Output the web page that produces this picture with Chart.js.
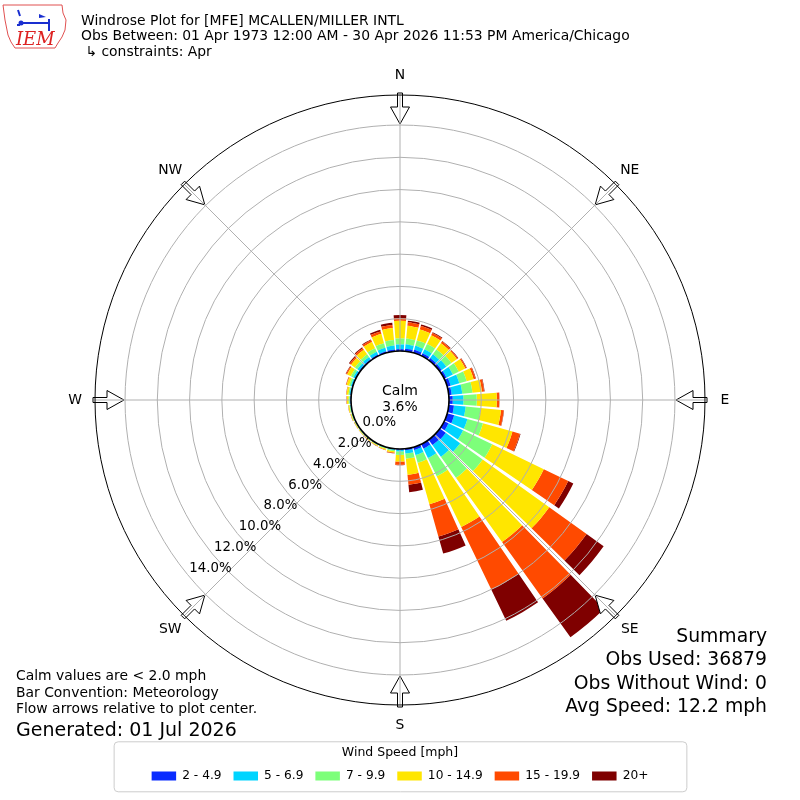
<!DOCTYPE html>
<html>
<head>
<meta charset="utf-8">
<script src="https://cdn.jsdelivr.net/npm/chart.js@4.4.1/dist/chart.umd.min.js"></script>
<style>
  html, body { margin: 0; padding: 0; background: #fff; }
  #wrap { width: 800px; height: 800px; position: relative; }
</style>
</head>
<body>
<div id="wrap"><canvas id="rose"></canvas></div>
<script>
// Direction bins (degrees, meteorological: direction wind blows from)
const directions = [0, 10, 20, 30, 40, 50, 60, 70, 80, 90, 100, 110, 120, 130, 140, 150, 160, 170,
  180, 190, 200, 210, 220, 230, 240, 250, 260, 270, 280, 290, 300, 310, 320, 330, 340, 350];

const speedBins = ['2 - 4.9', '5 - 6.9', '7 - 9.9', '10 - 14.9', '15 - 19.9', '20+'];
const binColors = ['#0a2cff', '#00d4ff', '#7dff7a', '#ffe600', '#ff4a00', '#7f0000'];

// Frequency (%) per direction, one array per speed bin
const speed2to5 = [0.12, 0.16, 0.20, 0.18, 0.16, 0.15, 0.16, 0.22, 0.18, 0.23, 0.32, 0.45, 0.30, 0.45, 0.40, 0.30, 0.18, 0.10,
  0.05, 0.03, 0.02, 0.02, 0.02, 0.02, 0.02, 0.02, 0.03, 0.03, 0.04, 0.05, 0.06, 0.07, 0.08, 0.09, 0.10, 0.11];
const speed5to7 = [0.29, 0.27, 0.25, 0.27, 0.29, 0.35, 0.44, 0.56, 0.66, 0.66, 0.73, 0.85, 1.00, 1.10, 0.90, 0.65, 0.32, 0.20,
  0.10, 0.05, 0.03, 0.02, 0.02, 0.02, 0.02, 0.03, 0.03, 0.05, 0.06, 0.08, 0.12, 0.15, 0.17, 0.19, 0.22, 0.25];
const speed7to10 = [0.37, 0.36, 0.35, 0.37, 0.37, 0.38, 0.40, 0.47, 0.63, 0.83, 0.94, 1.00, 2.00, 1.72, 1.60, 1.25, 0.50, 0.32,
  0.22, 0.07, 0.05, 0.04, 0.03, 0.03, 0.03, 0.04, 0.05, 0.06, 0.07, 0.11, 0.16, 0.18, 0.20, 0.24, 0.30, 0.34];
const speed10to15 = [1.09, 0.79, 0.70, 0.60, 0.48, 0.42, 0.45, 0.45, 0.59, 1.24, 1.26, 1.90, 3.55, 5.08, 4.90, 3.50, 2.68, 1.00,
  0.41, 0.09, 0.06, 0.05, 0.04, 0.04, 0.04, 0.05, 0.07, 0.11, 0.12, 0.16, 0.26, 0.30, 0.35, 0.43, 0.60, 0.74];
const speed15to20 = [0.15, 0.22, 0.22, 0.15, 0.12, 0.08, 0.08, 0.12, 0.14, 0.16, 0.17, 0.48, 1.68, 2.85, 4.30, 4.30, 2.07, 0.62,
  0.20, 0.05, 0.03, 0.02, 0.02, 0.01, 0.01, 0.01, 0.01, 0.02, 0.02, 0.04, 0.07, 0.10, 0.12, 0.12, 0.16, 0.20];
const speed20plus = [0.21, 0.10, 0.10, 0.06, 0.04, 0.03, 0.03, 0.03, 0.03, 0.01, 0.02, 0.04, 0.35, 1.30, 2.96, 2.14, 1.10, 0.46,
  0.02, 0.01, 0.01, 0.01, 0.01, 0.01, 0.01, 0.01, 0.01, 0.01, 0.01, 0.01, 0.03, 0.06, 0.06, 0.06, 0.10, 0.14];

const ringTicks = [0, 2, 4, 6, 8, 10, 12, 14];
const compassNames = ['N', 'NE', 'E', 'SE', 'S', 'SW', 'W', 'NW'];
const calmPercent = 3.6;

const titleLines = [
  'Windrose Plot for [MFE] MCALLEN/MILLER INTL',
  'Obs Between: 01 Apr 1973 12:00 AM - 30 Apr 2026 11:53 PM America/Chicago',
  ' \u21b3 constraints: Apr'
];
const noteLines = ['Calm values are < 2.0 mph', 'Bar Convention: Meteorology', 'Flow arrows relative to plot center.'];
const generatedText = 'Generated: 01 Jul 2026';
const summaryLines = ['Summary', 'Obs Used: 36879', 'Obs Without Wind: 0', 'Avg Speed: 12.2 mph'];

// radial axis: 0% sits on the calm circle, outer edge a bit past 14%
const R_MIN = -3.036;
const R_MAX = 15.86;
const BAR_OPENING = 0.86;
const FONT = "'DejaVu Sans', sans-serif";

Chart.defaults.font.family = FONT;
Chart.defaults.color = '#000';

// Polar area controller that stacks datasets and leaves a gap between direction bins
class WindRoseController extends Chart.PolarAreaController {
  updateElements(arcs, start, count, mode) {
    const chart = this.chart;
    const scale = this._cachedMeta.rScale;
    const step = 2 * Math.PI / this.getDataset().data.length;
    const half = step * BAR_OPENING / 2;
    for (let i = start; i < start + count; i++) {
      let base = 0;
      for (let j = 0; j < this.index; j++) {
        if (chart.isDatasetVisible(j)) base += chart.data.datasets[j].data[i];
      }
      const top = base + this.getParsed(i).r;
      const mid = i * step - Math.PI / 2;
      this.updateElement(arcs[i], i, {
        x: scale.xCenter,
        y: scale.yCenter,
        innerRadius: scale.getDistanceFromCenterForValue(base),
        outerRadius: scale.getDistanceFromCenterForValue(top),
        startAngle: mid - half,
        endAngle: mid + half,
        circumference: 2 * half,
        options: this.resolveDataElementOptions(i, arcs[i].active ? 'active' : mode)
      }, mode);
    }
  }
}
WindRoseController.id = 'windrose';
WindRoseController.defaults = Chart.PolarAreaController.defaults;
WindRoseController.overrides = { aspectRatio: 1, scales: { r: { type: 'radialLinear' } } };
Chart.register(WindRoseController);

function polarPoint(scale, bearing, r) {
  const a = bearing * Math.PI / 180;
  return { x: scale.xCenter + Math.sin(a) * r, y: scale.yCenter - Math.cos(a) * r };
}

function drawArrow(ctx, scale, bearing) {
  const a = bearing * Math.PI / 180;
  const ux = Math.sin(a), uy = -Math.cos(a);
  const px = -uy, py = ux;
  const rTail = scale.drawingArea + 2;
  const rTip = scale.drawingArea - 29;
  const rHead = rTip + 17;
  const pts = [[rTail, 2.5], [rHead, 2.5], [rHead, 9.5], [rTip, 0], [rHead, -9.5], [rHead, -2.5], [rTail, -2.5]];
  ctx.beginPath();
  pts.forEach(([r, w], k) => {
    const x = scale.xCenter + ux * r + px * w;
    const y = scale.yCenter + uy * r + py * w;
    if (k) ctx.lineTo(x, y); else ctx.moveTo(x, y);
  });
  ctx.closePath();
  ctx.fillStyle = '#fff';
  ctx.fill();
  ctx.strokeStyle = '#000';
  ctx.lineWidth = 1;
  ctx.stroke();
}

function drawLogo(ctx) {
  ctx.save();
  // state outline
  ctx.strokeStyle = '#e05050';
  ctx.lineWidth = 1;
  ctx.beginPath();
  const outline = [[3, 5], [62, 5], [63, 13], [66, 20], [65, 30], [62, 37], [58, 43], [55, 48], [15, 48], [11, 42], [8, 35], [5, 20]];
  outline.forEach(([x, y], k) => k ? ctx.lineTo(x, y) : ctx.moveTo(x, y));
  ctx.closePath();
  ctx.stroke();
  // blue wind symbol
  ctx.strokeStyle = '#1a2fd0';
  ctx.fillStyle = '#1a2fd0';
  ctx.lineWidth = 2;
  ctx.beginPath();
  ctx.moveTo(21, 23); ctx.lineTo(50, 23);
  ctx.moveTo(49, 19); ctx.lineTo(49, 31);
  ctx.moveTo(18, 10); ctx.lineTo(20, 16);
  ctx.stroke();
  ctx.beginPath();
  ctx.arc(21, 23, 2.5, 0, Math.PI * 2);
  ctx.fill();
  ctx.beginPath();
  ctx.moveTo(39, 14); ctx.lineTo(46, 17); ctx.lineTo(39, 18);
  ctx.closePath();
  ctx.fill();
  ctx.fillRect(17, 24, 3, 2);
  ctx.fillStyle = '#d22';
  ctx.font = "italic 18px 'DejaVu Serif', serif";
  ctx.textAlign = 'left';
  ctx.textBaseline = 'alphabetic';
  ctx.fillText('IEM', 16, 45);
  ctx.restore();
}

const roseDecor = {
  id: 'roseDecor',
  afterDatasetsDraw(chart) {
    const ctx = chart.ctx;
    const scale = chart.scales.r;
    ctx.save();
    // direction arrows, then spokes over them
    compassNames.forEach((n, k) => drawArrow(ctx, scale, k * 45));
    ctx.strokeStyle = '#b0b0b0';
    ctx.lineWidth = 1;
    const r0 = scale.getDistanceFromCenterForValue(0);
    compassNames.forEach((n, k) => {
      const p0 = polarPoint(scale, k * 45, r0);
      const p1 = polarPoint(scale, k * 45, scale.drawingArea);
      ctx.beginPath();
      ctx.moveTo(p0.x, p0.y);
      ctx.lineTo(p1.x, p1.y);
      ctx.stroke();
    });
    ctx.restore();
  },
  afterDraw(chart) {
    const ctx = chart.ctx;
    const scale = chart.scales.r;
    ctx.save();
    ctx.fillStyle = '#000';

    // compass labels
    ctx.font = '13.9px ' + FONT;
    ctx.textAlign = 'center';
    ctx.textBaseline = 'middle';
    compassNames.forEach((n, k) => {
      const p = polarPoint(scale, k * 45, scale.drawingArea + 20);
      ctx.fillText(n, p.x, p.y);
    });

    // ring labels along 230 degrees
    ctx.font = '13.3px ' + FONT;
    ctx.textAlign = 'left';
    ringTicks.forEach(v => {
      const p = polarPoint(scale, 230, scale.getDistanceFromCenterForValue(v));
      ctx.fillText(v.toFixed(1) + '%', p.x, p.y - 8.5);
    });

    // calm in the middle
    ctx.textAlign = 'center';
    ctx.font = '14px ' + FONT;
    ctx.fillText('Calm', scale.xCenter, scale.yCenter - 9);
    ctx.font = '13.9px ' + FONT;
    ctx.fillText(calmPercent.toFixed(1) + '%', scale.xCenter, scale.yCenter + 7);

    // header
    ctx.textAlign = 'left';
    ctx.textBaseline = 'alphabetic';
    ctx.font = '13.9px ' + FONT;
    titleLines.forEach((t, k) => ctx.fillText(t, 81, 24.5 + k * 15.7));

    // notes bottom left
    noteLines.forEach((t, k) => ctx.fillText(t, 16, 680 + k * 16.6));
    ctx.font = '19px ' + FONT;
    ctx.fillText(generatedText, 16, 735.5);

    // summary bottom right
    ctx.textAlign = 'right';
    ctx.font = '18.8px ' + FONT;
    summaryLines.forEach((t, k) => ctx.fillText(t, 767, 642 + k * 23.4));

    // frame around legend
    const lg = chart.legend;
    if (lg && lg.legendHitBoxes.length) {
      const boxes = lg.legendHitBoxes;
      const left = boxes[0].left - 38;
      const right = 2 * scale.xCenter - left;
      ctx.strokeStyle = '#cccccc';
      ctx.lineWidth = 1;
      ctx.beginPath();
      ctx.roundRect(left + 0.5, lg.top - 1.5, right - left, 50, 4);
      ctx.stroke();
    }
    ctx.restore();

    drawLogo(ctx);
  }
};

const seriesValues = [speed2to5, speed5to7, speed7to10, speed10to15, speed15to20, speed20plus];

new Chart(document.getElementById('rose'), {
  type: 'windrose',
  data: {
    labels: directions.map(d => d + '\u00b0'),
    datasets: seriesValues.map((vals, k) => ({
      label: speedBins[k],
      data: vals,
      backgroundColor: binColors[k],
      borderWidth: 0
    }))
  },
  options: {
    responsive: true,
    maintainAspectRatio: false,
    animation: false,
    events: [],
    layout: { padding: { top: 58, left: 95, right: 95, bottom: 8 } },
    scales: {
      r: {
        type: 'radialLinear',
        min: R_MIN,
        max: R_MAX,
        startAngle: 0,
        angleLines: { display: false },
        pointLabels: { display: false },
        ticks: { display: false },
        grid: {
          circular: true,
          z: 1,
          color: c => (c.tick && (c.tick.value === 0 || c.tick.value === R_MAX)) ? '#000' : '#b0b0b0',
          lineWidth: c => (c.tick && c.tick.value === 0) ? 1.6 : 1
        },
        afterBuildTicks: s => { s.ticks = ringTicks.concat([R_MAX]).map(v => ({ value: v })); }
      }
    },
    plugins: {
      legend: {
        position: 'bottom',
        align: 'center',
        title: {
          display: true,
          text: 'Wind Speed [mph]',
          font: { size: 12.5, lineHeight: 1 },
          padding: { top: 3, bottom: -1 }
        },
        labels: {
          boxWidth: 24.5,
          boxHeight: 9,
          padding: 12,
          font: { size: 12.2 }
        }
      },
      tooltip: { enabled: false }
    }
  },
  plugins: [roseDecor]
});
</script>
</body>
</html>
